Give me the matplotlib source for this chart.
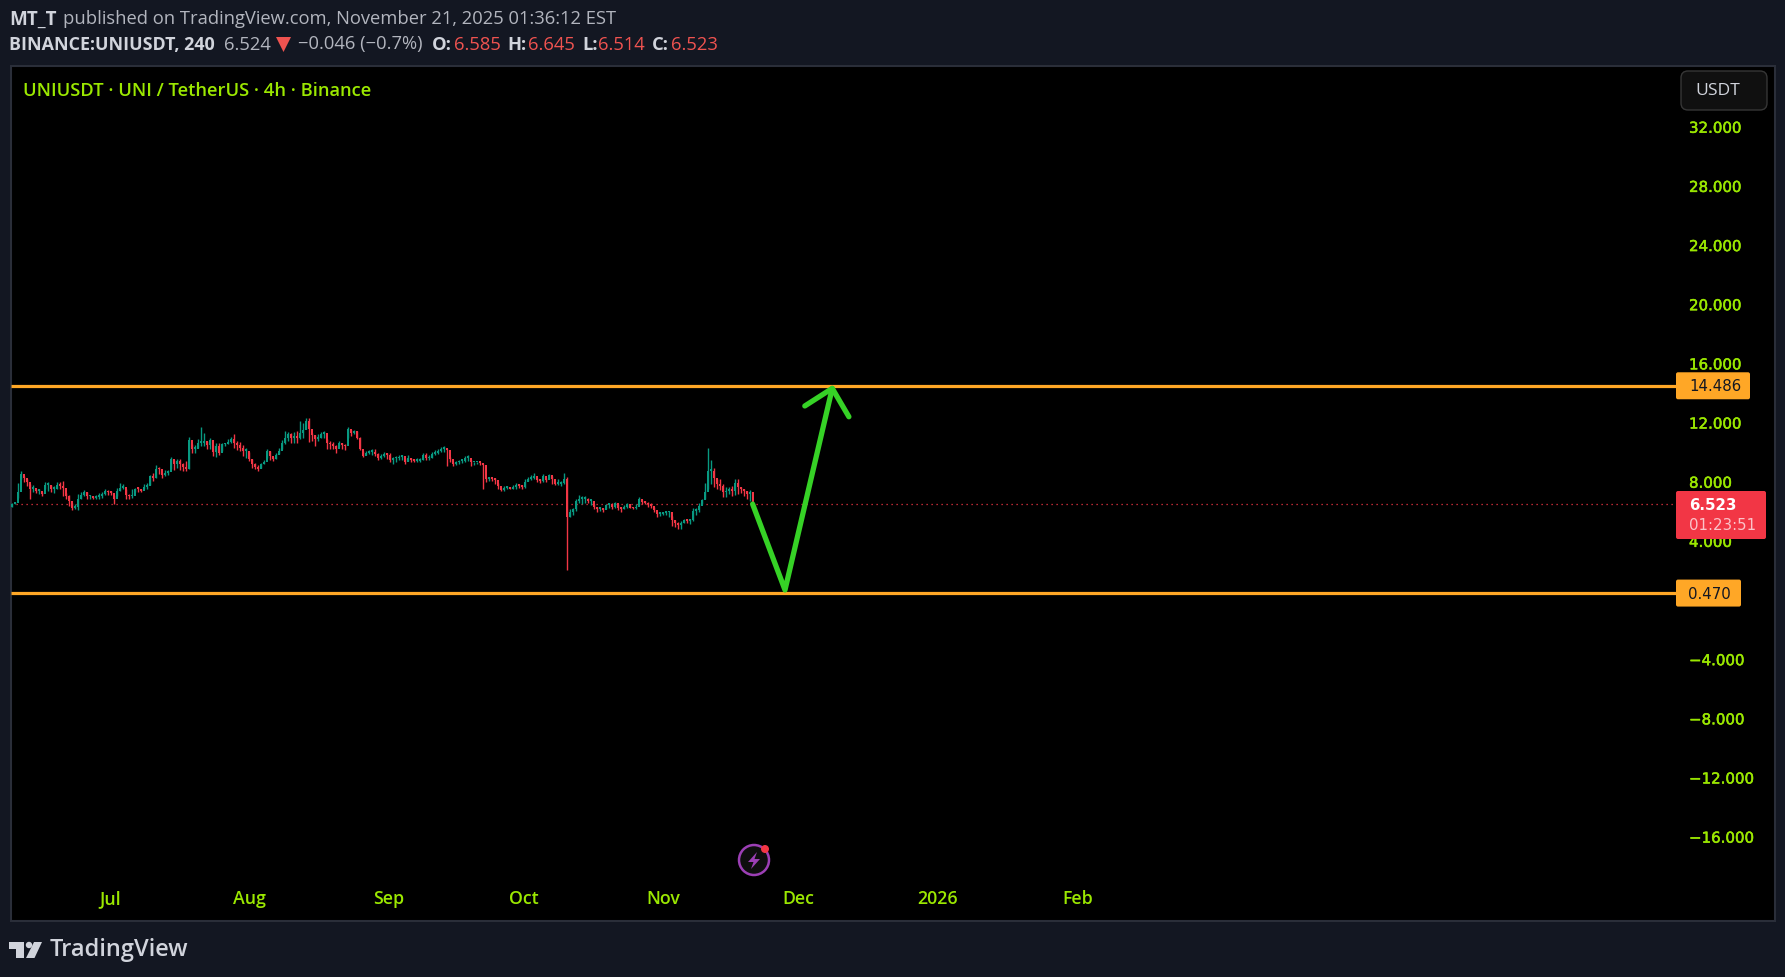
import numpy as np
import matplotlib
matplotlib.use("Agg")
import matplotlib.pyplot as plt
import matplotlib.patheffects as pe
from matplotlib.patches import Rectangle, FancyBboxPatch, Circle, Polygon

W, H = 1785, 977
BG = "#131722"; BORDER = "#2a2e39"; LIME = "#9BE800"; ORANGE = "#FFA726"
UP = "#089981"; DOWN = "#F23645"; ARROW = "#36D226"; GRAY = "#B2B5BE"; LIGHT = "#D1D4DC"
FONT = "Open Sans"; TICKFONT = "DejaVu Sans"
THICK = [pe.withStroke(linewidth=0.35, foreground=LIME)]

# 16-hour candles (USDT)
closes = [6.48,6.59,7.27,8.50,8.23,7.99,7.49,7.60,7.38,7.38,7.20,7.76,7.76,7.49,7.49,7.76,7.72,7.60,7.00,6.70,6.25,6.32,6.81,7.08,7.27,7.00,7.00,6.93,6.97,7.04,7.15,7.38,7.27,7.22,6.86,7.38,7.60,7.67,7.08,7.00,7.00,7.54,7.49,7.40,7.67,7.72,8.39,8.28,8.89,8.84,8.44,8.57,8.66,9.52,9.18,9.41,9.18,9.02,8.84,10.83,10.20,10.24,10.65,
 10.65,10.76,10.47,10.83,10.01,10.38,9.97,10.53,10.53,10.69,10.92,10.60,10.47,10.31,10.08,10.08,9.56,9.18,9.02,8.84,9.18,9.34,10.08,9.74,9.52,9.79,10.08,10.65,10.98,11.21,10.98,11.10,10.98,11.32,11.50,12.11,11.55,11.14,10.87,10.98,11.21,11.32,10.65,10.53,10.38,10.24,10.65,10.47,10.38,11.55,11.32,11.43,10.98,10.24,9.74,9.97,10.01,10.01,9.86,9.63,9.74,9.86,9.79,
 9.48,9.57,9.57,9.70,9.75,9.34,9.57,9.48,9.39,9.43,9.48,9.79,9.57,9.57,9.86,9.97,10.08,10.20,10.31,10.15,9.52,9.18,9.30,9.39,9.39,9.63,9.63,9.30,9.30,9.30,9.25,9.12,8.17,8.21,8.17,8.12,7.72,7.45,7.58,7.58,7.54,7.67,7.76,7.72,7.63,7.99,8.21,8.28,8.39,8.12,8.06,8.39,8.12,8.44,8.17,7.83,7.83,7.90,8.17,5.64,5.92,6.14,6.70,
 6.82,6.86,6.86,6.70,6.70,6.32,6.14,6.14,6.07,6.41,6.48,6.32,6.59,6.23,6.14,6.32,6.46,6.25,6.19,6.32,6.86,6.64,6.59,6.46,6.37,6.10,5.80,5.80,5.87,5.92,5.92,5.42,5.19,5.06,5.24,5.42,5.33,5.42,6.03,6.10,6.37,6.77,7.27,8.73,8.73,8.28,7.83,7.72,7.27,7.38,7.45,7.38,7.94,7.61,7.49,7.38,7.15,7.27,6.52]
highs = [6.59,6.63,7.94,8.71,8.39,8.21,7.83,7.81,7.49,7.54,7.31,7.99,7.99,7.76,7.72,7.99,7.99,8.05,7.22,7.08,6.59,6.48,7.15,7.27,7.45,7.27,7.08,7.04,7.08,7.22,7.27,7.54,7.45,7.35,7.08,7.60,7.90,7.83,7.49,7.15,7.49,7.60,7.63,7.49,7.83,7.90,8.48,8.57,9.11,9.02,8.62,8.80,8.78,9.70,9.47,9.56,9.56,9.29,9.41,11.05,10.53,10.47,10.92,
 11.73,11.32,10.76,10.98,10.47,10.65,10.65,10.65,10.65,10.87,11.05,11.21,10.76,10.69,10.47,10.31,10.01,9.52,9.29,9.11,9.29,9.47,10.20,10.08,9.70,9.92,10.31,10.83,11.43,11.37,11.28,11.37,11.43,12.09,12.00,12.34,12.34,11.28,11.19,11.21,11.37,11.46,10.87,10.76,10.69,10.47,10.74,10.65,10.53,11.68,11.50,11.50,11.43,11.05,10.08,10.08,10.15,10.20,10.20,9.97,9.86,10.01,9.97,
 9.93,9.70,9.75,9.79,9.79,9.57,9.79,9.61,9.52,9.57,9.63,9.93,9.97,9.79,10.02,10.15,10.24,10.33,10.42,10.24,9.70,9.34,9.43,9.48,9.48,9.75,9.79,9.48,9.34,9.34,9.30,9.21,8.30,8.35,8.26,8.26,7.94,7.58,7.72,7.72,7.67,7.81,7.90,7.83,7.76,8.17,8.35,8.44,8.57,8.28,8.21,8.53,8.28,8.51,8.39,7.94,8.17,8.06,8.62,8.35,6.14,6.23,6.82,
 7.09,7.04,7.00,6.93,6.77,6.48,6.32,6.23,6.19,6.48,6.59,6.55,6.64,6.48,6.32,6.41,6.55,6.41,6.32,6.48,6.95,6.77,6.68,6.64,6.55,6.32,5.96,5.92,5.96,6.00,6.00,5.69,5.42,5.28,5.33,5.51,5.46,5.51,6.19,6.19,6.55,6.86,7.94,10.31,9.48,8.96,8.17,8.17,7.83,7.67,7.61,7.72,8.21,8.17,7.67,7.54,7.38,7.45,6.65]
lows = [6.30,6.52,6.93,8.21,7.99,7.72,6.86,7.27,7.22,7.15,7.04,7.49,7.38,7.27,7.22,7.49,7.49,7.00,6.86,6.36,6.07,6.14,6.07,6.86,7.00,6.86,6.86,6.81,6.86,6.86,6.93,7.08,7.08,7.08,6.52,7.00,7.38,7.49,6.86,6.86,6.93,7.27,7.31,7.27,7.49,7.54,7.76,8.05,8.28,8.50,8.26,8.39,8.44,8.89,8.80,8.96,8.80,8.71,8.71,8.84,9.92,9.97,10.31,
 10.38,10.42,10.24,10.20,9.74,9.70,9.79,10.08,10.38,10.53,10.65,10.31,10.15,10.08,9.74,9.63,9.41,8.96,8.89,8.71,8.96,9.18,9.63,9.47,9.38,9.56,9.86,10.24,10.53,10.76,10.65,10.65,10.60,10.92,10.98,11.59,10.69,10.76,10.42,10.76,10.98,10.98,10.24,10.20,10.20,9.97,10.38,10.24,10.15,10.98,11.10,11.21,10.87,10.15,9.65,9.79,9.86,9.79,9.74,9.47,9.52,9.70,9.52,
 9.30,9.21,9.34,9.48,9.48,9.21,9.39,9.34,9.30,9.34,9.34,9.48,9.48,9.48,9.57,9.79,9.86,10.02,10.02,9.07,9.34,9.07,9.16,9.21,9.25,9.34,9.41,9.07,9.12,9.21,9.12,7.54,7.99,8.03,8.03,7.83,7.49,7.36,7.40,7.49,7.49,7.54,7.54,7.58,7.49,7.58,8.06,8.12,8.17,7.99,7.94,7.99,7.99,8.17,7.83,7.76,7.76,7.72,7.83,2.04,5.64,5.73,6.03,
 6.59,6.48,6.55,6.55,6.41,6.14,5.96,6.00,5.96,6.14,6.25,6.14,6.19,6.10,5.96,6.14,6.25,6.19,6.14,6.14,6.41,6.50,6.46,6.28,6.23,5.92,5.64,5.69,5.73,5.78,5.64,5.01,4.97,4.83,4.83,5.24,5.19,5.15,5.35,5.78,5.92,6.48,6.86,7.49,7.83,7.61,7.54,7.45,6.99,6.95,7.15,7.04,7.09,7.15,7.22,7.04,6.86,6.70,6.51]

first_open = 6.30
first_candle_day = -21.8      # days relative to 1 Jul 2025
candle_days = 2 / 3

price_ticks = [32, 28, 24, 20, 16, 12, 8, 4, -4, -8, -12, -16]
month_days = [0, 31, 62, 92, 123, 153, 184, 215]
month_labels = ["Jul", "Aug", "Sep", "Oct", "Nov", "Dec", "2026", "Feb"]

last_price = 6.523
upper_level = 14.486
lower_level = 0.470
arrow_days = [142.8, 150.0, 160.5]
arrow_prices = [6.49, 0.68, 14.31]
barb_days = [154.4, 160.5, 164.2]
barb_prices = [13.12, 14.31, 12.39]

fig = plt.figure(figsize=(W / 100, H / 100), dpi=100, facecolor=BG)
L, R, T, B = 11, 1775, 66, 921
ax = fig.add_axes([L / W, 1 - B / H, (R - L) / W, (B - T) / H], facecolor="black")
ax.set_xlim((L - 110) / 4.5, (R - 110) / 4.5)
ax.set_ylim(8 - (B - 481.7) / 14.79, 8 - (T - 481.7) / 14.79)
for s in ax.spines.values():
    s.set_color(BORDER); s.set_linewidth(1.5)

# candles
n = len(closes)
xs = first_candle_day + candle_days * np.arange(n)
c = np.array(closes); hi = np.array(highs); lo = np.array(lows)
o = np.concatenate([[first_open], c[:-1]])
cols = [UP if a >= b else DOWN for a, b in zip(c, o)]
ax.vlines(xs, lo, hi, colors=cols, linewidth=1.0, zorder=3)
ax.bar(xs, np.maximum(np.abs(c - o), 0.12), bottom=np.minimum(c, o), width=0.58, color=cols, linewidth=0, zorder=3)

# levels
tag_left_day = (1676 - 110) / 4.5
ax.plot([ax.get_xlim()[0], tag_left_day], [last_price] * 2, color=DOWN, lw=0.9, ls=(0, (1, 3)), zorder=2)
for lv in (upper_level, lower_level):
    ax.plot([ax.get_xlim()[0], tag_left_day], [lv] * 2, color=ORANGE, lw=2.3, zorder=4, solid_capstyle="butt")
ax.plot(arrow_days, arrow_prices, color=ARROW, lw=3.8, zorder=5, solid_joinstyle="round", solid_capstyle="round")
ax.plot(barb_days, barb_prices, color=ARROW, lw=3.8, zorder=5, solid_joinstyle="round", solid_capstyle="round")

# axes labels
ax.set_yticks(price_ticks)
ax.set_yticklabels([f"{v:.3f}".replace("-", "\u2212") for v in price_ticks])
ax.yaxis.tick_right()
ax.tick_params(axis="y", length=0, pad=-(R - 1689) * 0.72, labelcolor=LIME, labelsize=10.8)
for t in ax.get_yticklabels():
    t.set_ha("left"); t.set_family(TICKFONT); t.set_path_effects(THICK)
ax.set_xticks(month_days)
ax.set_xticklabels(month_labels)
ax.tick_params(axis="x", length=0, pad=-21.5 * 0.72, labelcolor=LIME, labelsize=12.8)
for t in ax.get_xticklabels():
    t.set_va("center"); t.set_family(FONT); t.set_weight("semibold")

# overlay in pixel coordinates
ov = fig.add_axes([0, 0, 1, 1], facecolor="none", zorder=10)
ov.set_xlim(0, W); ov.set_ylim(H, 0); ov.axis("off")
def py(v):
    return H - ax.transData.transform((0, v))[1]
def txt(x, y, s, color=LIGHT, size=13.2, weight="normal", ha="left", family=FONT):
    return ov.text(x, y, s, color=color, fontsize=size, fontweight=weight, ha=ha, va="center", family=family)
def tag(x0, x1, y0, y1, color):
    ov.add_patch(FancyBboxPatch((x0 + 2, y0 + 2), x1 - x0 - 4, y1 - y0 - 4, boxstyle="round,pad=2,rounding_size=2",
                                fc=color, ec="none"))

tag(1676, 1750, py(upper_level) - 13.5, py(upper_level) + 13.5, ORANGE)
txt(1689, py(upper_level) + 0.5, f"{upper_level:.3f}", color="#131722", size=10.8, family=TICKFONT)
tag(1676, 1741, py(lower_level) - 13.5, py(lower_level) + 13.5, ORANGE)
txt(1688, py(lower_level) + 1, f"{lower_level:.3f}", color="#131722", size=10.8, family=TICKFONT)
tag(1676, 1766, 491, 539, DOWN)
txt(1689, 505, f"{last_price:.3f}", color="white", size=10.8, weight="bold", family=TICKFONT)
txt(1689, 526, "01:23:51", color="#FBC3C9", size=10.8, family=TICKFONT)

ov.add_patch(FancyBboxPatch((1687, 77), 74, 27, boxstyle="round,pad=6,rounding_size=7", fc="#101010", ec="#363636", lw=1))
txt(1695, 91, "USDT", color=LIGHT, size=12.6, family=FONT)

txt(23, 91.5, "UNIUSDT \u00b7 UNI / TetherUS \u00b7 4h \u00b7 Binance", color=LIME, size=13.2, weight="semibold")

# header
txt(9, 19.5, "MT_T", color=LIGHT, size=13.6, weight="bold")
txt(63, 19.5, "published on TradingView.com, November 21, 2025 01:36:12 EST", color=GRAY, size=13.2)
y2 = 44.5
txt(9, y2, "BINANCE:UNIUSDT, 240", color=LIGHT, size=12.9, weight="bold")
txt(224, y2, "6.524", color=GRAY, size=13.2)
ov.add_patch(Polygon([[276, 37], [291, 37], [283.5, 52]], fc="#EF5350", ec="none"))
txt(298, y2, "\u22120.046 (\u22120.7%)", color=GRAY, size=13.2)
for x, s in [(432, "O:"), (507, "H:"), (582, "L:"), (652, "C:")]:
    txt(x, y2, s, color=LIGHT, size=13.2, weight="bold")
for x, s in [(454, "6.585"), (528, "6.645"), (598, "6.514"), (671, "6.523")]:
    txt(x, y2, s, color="#EF5350", size=13.2)

# publish icon
ov.add_patch(Circle((754, 860), 15, fc="#0E0E0E", ec="#9C3FB5", lw=1.8))
ov.add_patch(Polygon([[757, 852], [748, 862], [753.5, 862], [751, 869], [760, 859], [754.5, 859]], fc="#9C3FB5", ec="none"))
ov.add_patch(Circle((765, 849), 4, fc="#F23645", ec="none"))

# logo
LOGO = LIGHT
ov.add_patch(Polygon([[9, 942], [24, 942], [24, 958], [16, 958], [16, 948.5], [9, 948.5]], fc=LOGO, ec="none"))
ov.add_patch(Circle((29, 945), 3.2, fc=LOGO, ec="none"))
ov.add_patch(Polygon([[34, 942], [42, 942], [34.5, 958], [26, 958]], fc=LOGO, ec="none"))
txt(50, 950, "TradingView", color=LIGHT, size=17, weight="semibold")

fig.savefig("out.png", dpi=100, facecolor=BG)
